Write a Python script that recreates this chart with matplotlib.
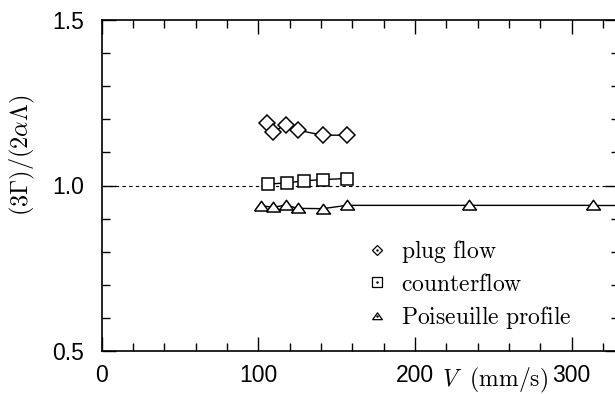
import numpy as np
import matplotlib
matplotlib.use('Agg')
import matplotlib.pyplot as plt
from matplotlib.lines import Line2D
from matplotlib.legend_handler import HandlerTuple
from matplotlib.ticker import MultipleLocator

plt.rcParams['font.family'] = ['Liberation Sans', 'DejaVu Sans']
plt.rcParams['mathtext.fontset'] = 'cm'

# data
plug_v = [105.4, 109.6, 117.5, 125.2, 141.1, 156.4]
plug_r = [1.190, 1.162, 1.184, 1.167, 1.152, 1.152]

counter_v = [106.0, 118.1, 129.4, 141.1, 156.4]
counter_r = [1.004, 1.008, 1.014, 1.018, 1.021]

pois_v = [101.7, 109.6, 117.5, 125.2, 141.1, 156.4, 234.7, 313.9]
pois_r = [0.939, 0.934, 0.941, 0.931, 0.930, 0.940, 0.940, 0.940]

labels = ['plug flow', 'counterflow', 'Poiseuille profile']

xmax = 330
tri = [(-1.0, -0.65), (1.0, -0.65), (0.0, 0.75), (-1.0, -0.65)]

fig = plt.figure(figsize=(6.15, 3.94), dpi=100)
ax = fig.add_axes([101.7 / 615, 43 / 394, (618.5 - 101.7) / 615, 331 / 394])

ax.axhline(1.0, color='k', lw=0.8, ls=(0, (3, 3)))

ax.plot(plug_v, plug_r, 'k-', lw=1.0, marker='D', ms=8, mfc='white',
        mec='k', mew=1.1)
ax.plot(counter_v, counter_r, 'k-', lw=1.0, marker='s', ms=9, mfc='white',
        mec='k', mew=1.1)
ax.plot([pois_v[-1], xmax], [pois_r[-1], pois_r[-1]], 'k-', lw=1.0)
ax.plot(pois_v, pois_r, 'k-', lw=1.0, marker=tri, ms=10, mfc='white',
        mec='k', mew=1.1)

ax.set_xlim(0, xmax)
ax.set_ylim(0.5, 1.5)
ax.xaxis.set_major_locator(MultipleLocator(100))
ax.xaxis.set_minor_locator(MultipleLocator(20))
ax.yaxis.set_major_locator(MultipleLocator(0.5))
ax.yaxis.set_minor_locator(MultipleLocator(0.1))
ax.tick_params(which='both', direction='in', top=True, right=True,
               labelsize=16.5, width=1.0)
ax.tick_params(which='major', length=10)
ax.tick_params(which='minor', length=6)
ax.tick_params(axis='x', which='major', pad=9)
ax.tick_params(axis='y', which='major', pad=13)
ax.set_yticks([0.5, 1.0, 1.5])
ax.set_yticklabels(['0.5', '1.0', '1.5'])
for s in ax.spines.values():
    s.set_linewidth(1.2)

ax.set_ylabel(r'$(3\Gamma)/(2\alpha\Lambda)$', fontsize=17.5)
ax.yaxis.set_label_coords(-0.125, 0.59)
ax.set_xlabel(r'$V\ \ \mathrm{(mm/s)}$', fontsize=17)
ax.xaxis.set_label_coords(0.762, -0.045)

mk = ['D', 's', tri]
ms = [5, 6.5, 7]
handles = []
for m, s in zip(mk, ms):
    h1 = Line2D([], [], ls='none', marker=m, ms=s, mfc='white', mec='k', mew=0.9)
    h2 = Line2D([], [], ls='none', marker='.', ms=1.5, color='k')
    handles.append((h1, h2))
leg = ax.legend(handles, [r'$\mathrm{%s}$' % l.replace(' ', r'\ ') for l in labels],
                handler_map={tuple: HandlerTuple(ndivide=1)},
                loc='upper left', bbox_to_anchor=(0.51, 0.34), frameon=False,
                fontsize=17, handlelength=1.0, handletextpad=0.5,
                labelspacing=0.35, borderpad=0, borderaxespad=0)

fig.savefig('out.png', dpi=100)
